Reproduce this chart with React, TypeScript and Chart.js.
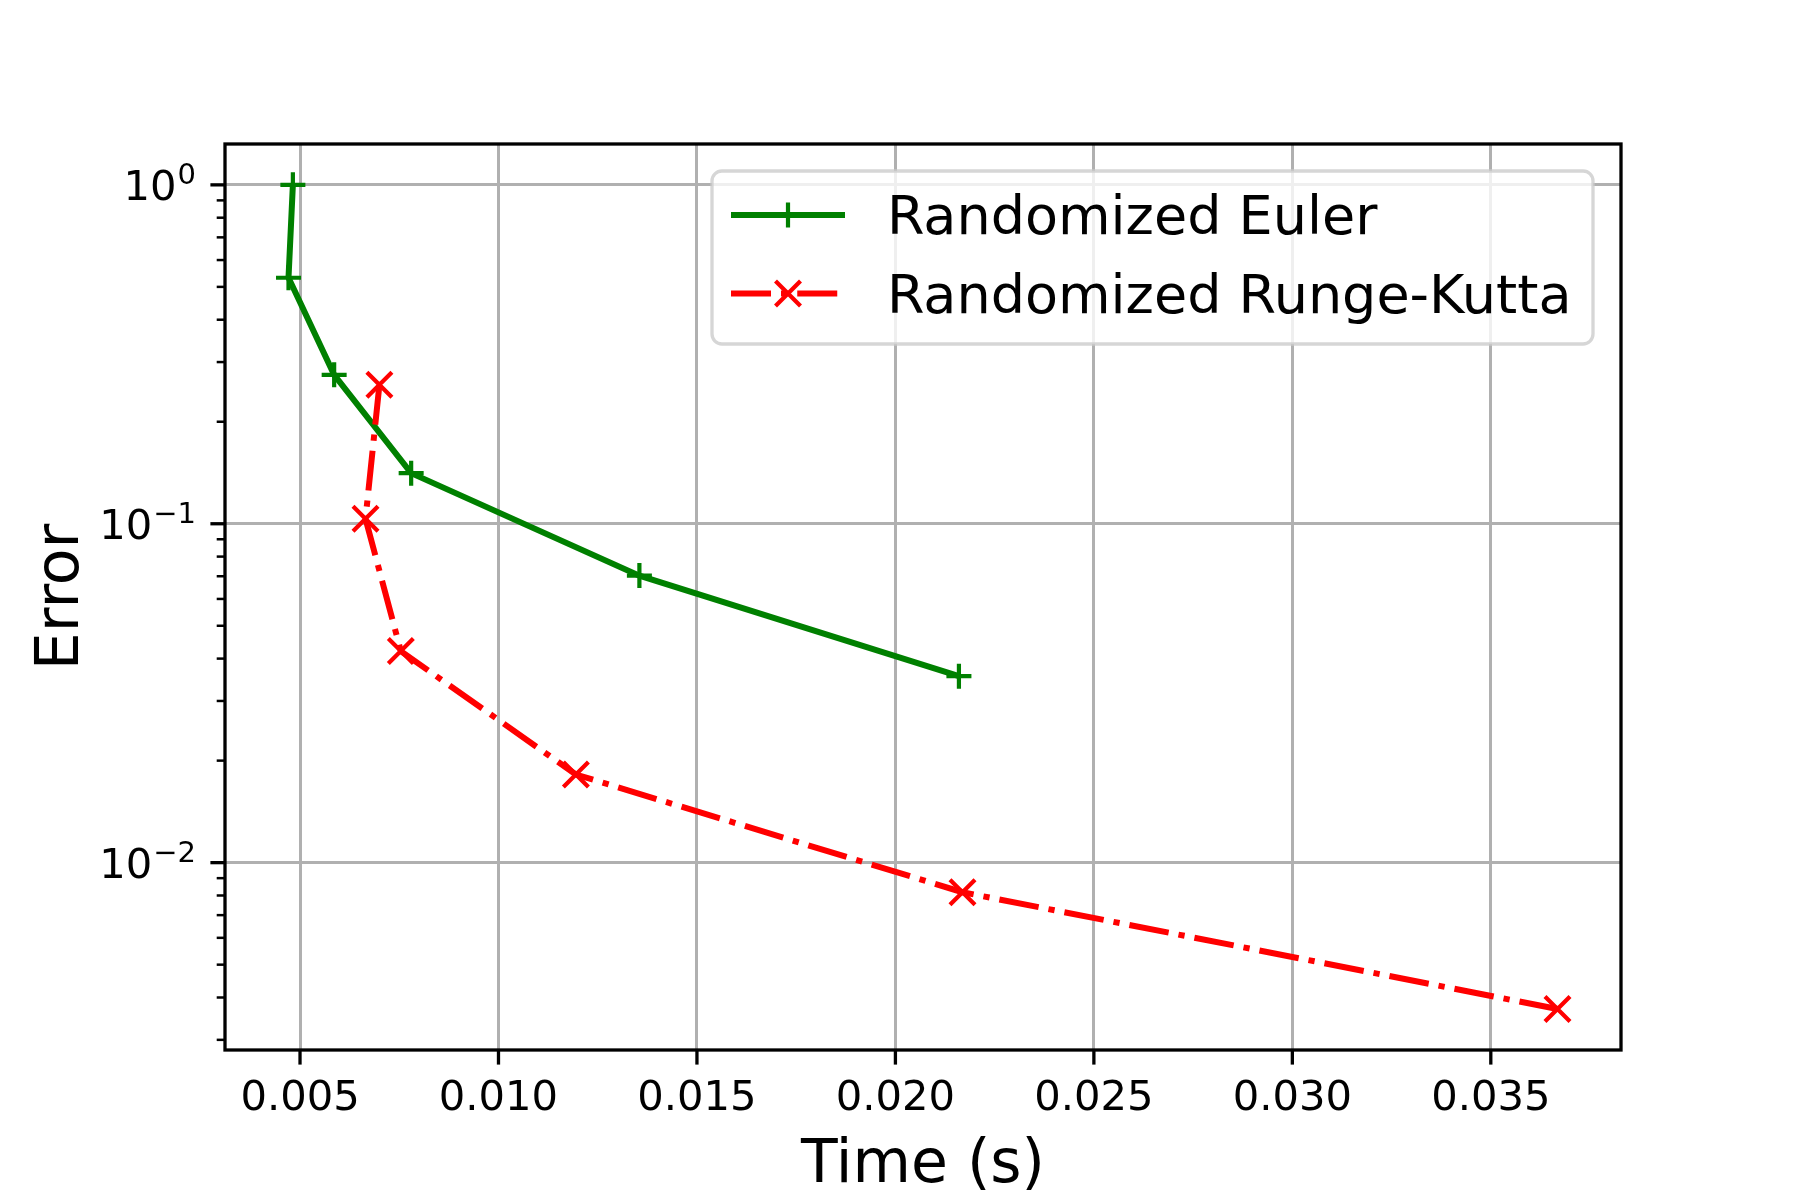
import React, { useEffect, useRef } from "react";
import { Chart, registerables } from "chart.js";

Chart.register(...registerables);

const eulerTime = [0.00482, 0.00471, 0.00586, 0.0078, 0.01355, 0.0216];
const eulerError = [1.0, 0.532, 0.275, 0.141, 0.0703, 0.0355];
const rkTime = [0.007, 0.00665, 0.00754, 0.01195, 0.02169, 0.03668];
const rkError = [0.257, 0.1035, 0.0421, 0.0182, 0.00818, 0.0037];
const xTicks = [0.005, 0.01, 0.015, 0.02, 0.025, 0.03, 0.035];
const xTickLabels = ["0.005", "0.010", "0.015", "0.020", "0.025", "0.030", "0.035"];
const yTicks = [0.01, 0.1, 1];
const yTickExponents = ["\u22122", "\u22121", "0"];
const seriesNames = ["Randomized Euler", "Randomized Runge-Kutta"];
const xTitle = "Time (s)";
const yTitle = "Error";

const GREEN = "#008000";
const RED = "#ff0000";
const FONT = "'DejaVu Sans', sans-serif";
const LW = 6;
const DASHDOT = [40, 10, 6.25, 10];

const decorPlugin = {
  id: "decor",
  afterDraw(chart: any) {
    const ctx = chart.ctx as CanvasRenderingContext2D;
    const xs = chart.scales.x;
    const ys = chart.scales.y;
    const a = chart.chartArea;
    ctx.save();
    // spines
    ctx.strokeStyle = "#000";
    ctx.lineWidth = 3.3;
    ctx.strokeRect(a.left, a.top, a.right - a.left, a.bottom - a.top);
    // x ticks
    ctx.lineWidth = 3.3;
    ctx.fillStyle = "#000";
    ctx.font = `41.67px ${FONT}`;
    ctx.textAlign = "center";
    ctx.textBaseline = "alphabetic";
    xTicks.forEach((v, i) => {
      const px = xs.getPixelForValue(v);
      ctx.beginPath();
      ctx.moveTo(px, a.bottom);
      ctx.lineTo(px, a.bottom + 14.6);
      ctx.stroke();
      ctx.fillText(xTickLabels[i], px, a.bottom + 60);
    });
    // y major ticks and labels
    yTicks.forEach((v, i) => {
      const py = ys.getPixelForValue(v);
      ctx.lineWidth = 3.3;
      ctx.beginPath();
      ctx.moveTo(a.left - 14.6, py);
      ctx.lineTo(a.left, py);
      ctx.stroke();
      const right = a.left - 29;
      ctx.font = `29px ${FONT}`;
      ctx.textAlign = "left";
      const sup = yTickExponents[i];
      const ws = ctx.measureText(sup).width;
      ctx.fillText(sup, right - ws, py - 0.5);
      ctx.font = `41.67px ${FONT}`;
      ctx.textAlign = "right";
      ctx.fillText("10", right - ws - 1, py + 15.5);
    });
    // y minor ticks
    ctx.lineWidth = 2.5;
    for (let e = -3; e <= 0; e++) {
      for (let m = 2; m <= 9; m++) {
        const v = m * Math.pow(10, e);
        if (v < ys.min || v > ys.max) continue;
        const py = ys.getPixelForValue(v);
        ctx.beginPath();
        ctx.moveTo(a.left - 8.3, py);
        ctx.lineTo(a.left, py);
        ctx.stroke();
      }
    }
    // axis titles
    ctx.font = `60px ${FONT}`;
    ctx.textAlign = "center";
    ctx.fillText(xTitle, (a.left + a.right) / 2, 1181.5);
    ctx.save();
    ctx.translate(78, (a.top + a.bottom) / 2);
    ctx.rotate(-Math.PI / 2);
    ctx.fillText(yTitle, 0, 0);
    ctx.restore();

    // legend
    const lx = 712, ly = 171, lw = 881, lh = 173, r = 10;
    ctx.beginPath();
    ctx.moveTo(lx + r, ly);
    ctx.arcTo(lx + lw, ly, lx + lw, ly + lh, r);
    ctx.arcTo(lx + lw, ly + lh, lx, ly + lh, r);
    ctx.arcTo(lx, ly + lh, lx, ly, r);
    ctx.arcTo(lx, ly, lx + lw, ly, r);
    ctx.closePath();
    ctx.fillStyle = "rgba(255,255,255,0.8)";
    ctx.fill();
    ctx.strokeStyle = "rgba(204,204,204,0.8)";
    ctx.lineWidth = 3.3;
    ctx.stroke();

    const rows = [
      { y: 215, color: GREEN, dash: [] as number[], marker: "plus" },
      { y: 293.5, color: RED, dash: DASHDOT, marker: "x" },
    ];
    rows.forEach((row, i) => {
      ctx.strokeStyle = row.color;
      ctx.lineWidth = LW;
      ctx.lineCap = "butt";
      ctx.setLineDash(row.dash);
      ctx.beginPath();
      ctx.moveTo(731, row.y);
      ctx.lineTo(845, row.y);
      ctx.stroke();
      ctx.setLineDash([]);
      ctx.lineWidth = 4.2;
      const cx = 788;
      ctx.beginPath();
      if (row.marker === "plus") {
        ctx.moveTo(cx - 12.5, row.y);
        ctx.lineTo(cx + 12.5, row.y);
        ctx.moveTo(cx, row.y - 12.5);
        ctx.lineTo(cx, row.y + 12.5);
      } else {
        ctx.moveTo(cx - 12.5, row.y - 12.5);
        ctx.lineTo(cx + 12.5, row.y + 12.5);
        ctx.moveTo(cx + 12.5, row.y - 12.5);
        ctx.lineTo(cx - 12.5, row.y + 12.5);
      }
      ctx.stroke();
      ctx.fillStyle = "#000";
      ctx.font = `54px ${FONT}`;
      ctx.textAlign = "left";
      ctx.fillText(seriesNames[i], 887, i === 0 ? 234 : 312.5);
    });
    ctx.restore();
  },
};

export default function App() {
  const ref = useRef<HTMLCanvasElement>(null);
  useEffect(() => {
    const canvas = ref.current;
    if (!canvas) return;
    const chart = new Chart(canvas, {
      type: "line",
      data: {
        datasets: [
          {
            label: seriesNames[0],
            data: eulerTime.map((t, i) => ({ x: t, y: eulerError[i] })),
            borderColor: GREEN,
            backgroundColor: GREEN,
            borderWidth: LW,
            tension: 0,
            fill: false,
            pointStyle: "cross",
            pointRadius: 12.5,
            pointBorderWidth: 4.2,
            pointBorderColor: GREEN,
            pointHoverRadius: 12.5,
            order: 1,
          },
          {
            label: seriesNames[1],
            data: rkTime.map((t, i) => ({ x: t, y: rkError[i] })),
            borderColor: RED,
            backgroundColor: RED,
            borderWidth: LW,
            borderDash: DASHDOT,
            tension: 0,
            fill: false,
            pointStyle: "crossRot",
            pointRadius: 17.7,
            pointBorderWidth: 4.2,
            pointBorderColor: RED,
            pointHoverRadius: 17.7,
            order: 0,
          },
        ],
      },
      options: {
        responsive: false,
        animation: false,
        devicePixelRatio: 1,
        events: [],
        layout: { padding: { left: 0, top: 144, right: 179, bottom: 0 } },
        plugins: { legend: { display: false }, tooltip: { enabled: false } },
        scales: {
          x: {
            type: "linear",
            min: 0.00311,
            max: 0.03828,
            border: { display: false },
            grid: { color: "#b0b0b0", lineWidth: 3, drawTicks: false },
            ticks: { display: false },
            afterBuildTicks: (s: any) => {
              s.ticks = xTicks.map((v) => ({ value: v }));
            },
            afterFit: (s: any) => {
              s.height = 150;
            },
          },
          y: {
            type: "logarithmic",
            min: 0.0028,
            max: 1.32,
            border: { display: false },
            grid: { color: "#b0b0b0", lineWidth: 3, drawTicks: false },
            ticks: { display: false },
            afterBuildTicks: (s: any) => {
              s.ticks = yTicks.map((v) => ({ value: v }));
            },
            afterFit: (s: any) => {
              s.width = 225;
            },
          },
        },
      },
      plugins: [decorPlugin],
    } as any);
    return () => chart.destroy();
  }, []);
  return (
    <div style={{ position: "fixed", left: 0, top: 0, width: 1800, height: 1200, background: "#fff" }}>
      <canvas ref={ref} width={1800} height={1200} style={{ width: 1800, height: 1200 }} />
    </div>
  );
}
